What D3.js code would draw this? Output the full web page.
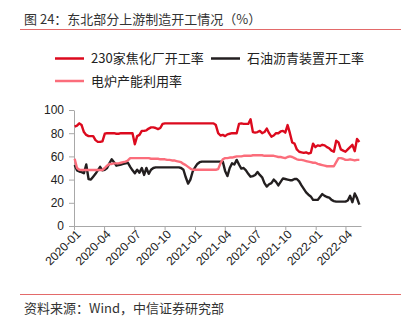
<!DOCTYPE html>
<html>
<head>
<meta charset="utf-8">
<script src="https://cdn.jsdelivr.net/npm/d3@7"></script>
<style>
  html, body { margin: 0; padding: 0; background: #fff; }
  svg { display: block; }
  text { font-family: "Noto Sans CJK SC", "Liberation Sans", Arial, sans-serif; }
  .tick text { font-family: "Liberation Sans", Arial, sans-serif; }
</style>
</head>
<body>
<script>
// Weekly readings, first week ending 2020-01-03
const firstWeek = "2020-01-03";

const coking = [
  85.6, 86.5, 88.5, 87, 81, 78.5, 77.5, 77.5, 77.5, 74,
  72.5, 72.5, 73, 79.5, 80, 80, 80, 80, 79.5, 79.5,
  80, 80, 80, 80, 80, 80, 70.5, 77.5, 78.5, 82,
  82, 82.5, 84, 85, 85, 84.5, 83.5, 84.5, 88, 88.5,
  88.5, 88.5, 88.5, 88.5, 88.5, 88.5, 88.5, 88.5, 88.5, 88.5,
  88.5, 88.5, 88.5, 88.5, 88.5, 88.5, 88.5, 88.5, 88.5, 88.5,
  88.5, 87, 80, 78, 78.5, 77.5, 79, 79.5, 80, 80,
  80, 88, 88.5, 88, 88, 88, 92, 81, 80.5, 81,
  82, 80, 81, 84, 80, 77, 78, 80, 80, 81.5,
  82, 80.5, 87, 80, 72, 71, 66, 64, 63.5, 63,
  63.5, 62.5, 63, 71, 68, 69.5, 69, 70, 69.5, 68,
  67, 65, 64, 73.5, 72, 66, 65, 64, 66, 68,
  70, 64.5, 75, 72.5
];

const asphalt = [
  52.6, 48, 47, 46.5, 45.5, 53, 40.5, 40, 42.5, 45,
  48, 51, 48, 48.5, 50, 54, 57.5, 55, 52, 52.5,
  53, 53.5, 54, 54.5, 51, 48, 45.5, 48.5, 46, 50,
  44, 50, 45, 48.5, 50, 50.5, 50.5, 50.5, 50.5, 50.5,
  50.5, 50.5, 50.5, 50.5, 50.5, 50.5, 50, 48.5, 42, 36.5,
  40, 47, 50.5, 53.5, 55, 55.5, 55.5, 55.5, 55.5, 55.5,
  55.5, 55.5, 55.5, 55.5, 55.5, 47.5, 43, 50, 54, 53,
  57, 53, 49.5, 50, 48, 45, 42.5, 43, 44, 46.5,
  44, 42, 37, 34, 36, 37, 40, 38, 35, 38,
  41, 40.5, 40, 39.5, 39.5, 40.5, 40.5, 38.5, 35, 32,
  29, 27, 25.5, 22.5, 22.5, 22.5, 25, 27.5, 26, 25,
  24.5, 22.5, 21.5, 21, 21, 21, 21, 21, 22, 26,
  20.5, 28, 24, 18.5
];

const eaf = [
  58, 50, 48.5, 48.3, 48.3, 48.3, 48.3, 48.3, 48.3, 48.3,
  48.3, 48.3, 48.3, 50, 52, 53.5, 53.5, 54, 54, 54,
  54.5, 55, 55.5, 56.5, 58.5, 58.5, 58.5, 58.5, 58.5, 58.5,
  58.5, 58.5, 58.5, 58, 58, 58, 58, 57.5, 57.5, 57.5,
  57, 57, 56.5, 56.5, 56, 55.5, 55, 53.5, 52.5, 51,
  49.5, 48.5, 48.5, 48.5, 48.5, 48.5, 48.5, 48.5, 48.5, 48.5,
  48.5, 48.5, 49, 54, 57.5, 58.5, 58.5, 59, 59, 59.5,
  60, 60, 60, 60.5, 60.5, 60.5, 60.5, 61, 61, 61,
  61, 61, 60.5, 60.5, 60.5, 60.5, 60.5, 60, 59.5, 59.5,
  59, 58.5, 59.5, 60, 59.5, 58.5, 57.5, 57, 57, 56.5,
  56, 55.5, 55, 54.5, 54.5, 53.5, 53, 52.5, 52, 51.5,
  51.5, 51.5, 51.5, 55, 58.5, 58.5, 58, 57, 57, 57.5,
  57, 56.5, 57, 57
];

const seriesNames = ["230家焦化厂开工率", "石油沥青装置开工率", "电炉产能利用率"];
const seriesColors = ["#dc0a1e", "#231f20", "#fb6d7b"];
const yTicks = [0, 20, 40, 60, 80, 100];
const xTickLabels = ["2020-01", "2020-04", "2020-07", "2020-10", "2021-01",
                     "2021-04", "2021-07", "2021-10", "2022-01", "2022-04"];
const titleText = "图 24：东北部分上游制造开工情况（%）";
const sourceText = "资料来源：Wind，中信证券研究部";

const W = 401, H = 324;
const svg = d3.select("body").append("svg").attr("width", W).attr("height", H);

const parseDay = d3.timeParse("%Y-%m-%d");
const parseMonth = d3.timeParse("%Y-%m");
const start = parseDay(firstWeek);
const dates = coking.map((_, i) => d3.timeDay.offset(start, 7 * i));

const x = d3.scaleTime()
  .domain([parseDay("2020-01-01"), parseDay("2022-05-18")])
  .range([74, 361]);
const y = d3.scaleLinear().domain([0, 100]).range([226, 110]);

// title and rules
svg.append("text").attr("x", 24).attr("y", 24)
  .attr("font-size", 13).attr("fill", "#333").text(titleText);
svg.append("line").attr("x1", 20).attr("x2", 401).attr("y1", 29.5).attr("y2", 29.5)
  .attr("stroke", "#e36a6a").attr("stroke-width", 1);
svg.append("line").attr("x1", 20).attr("x2", 401).attr("y1", 294.5).attr("y2", 294.5)
  .attr("stroke", "#e36a6a").attr("stroke-width", 1);
svg.append("text").attr("x", 24).attr("y", 313)
  .attr("font-size", 13).attr("fill", "#333").text(sourceText);

// legend
const legendItems = [
  { lx: 55, ly: 58.5 },
  { lx: 211, ly: 58.5 },
  { lx: 55, ly: 81 }
];
legendItems.forEach((p, k) => {
  const g = svg.append("g");
  g.append("line").attr("x1", p.lx).attr("x2", p.lx + 29)
    .attr("y1", p.ly).attr("y2", p.ly)
    .attr("stroke", seriesColors[k]).attr("stroke-width", 2.5);
  g.append("text").attr("x", p.lx + 36).attr("y", p.ly + 4.5)
    .attr("font-size", 13).attr("fill", "#222").text(seriesNames[k]);
});

// axes
const yAxis = svg.append("g").attr("transform", "translate(74,0)")
  .call(d3.axisLeft(y).tickValues(yTicks).tickSize(5).tickPadding(5).tickSizeOuter(0));
yAxis.selectAll("text").attr("font-size", 12).attr("fill", "#222");

const xAxis = svg.append("g").attr("transform", "translate(0,226)")
  .call(d3.axisBottom(x).tickValues(xTickLabels.map(parseMonth))
    .tickFormat(d3.timeFormat("%Y-%m")).tickSize(4).tickSizeOuter(0));
xAxis.selectAll("text")
  .attr("font-size", 12).attr("fill", "#222")
  .attr("text-anchor", "end")
  .attr("dy", "0.35em")
  .attr("transform", "translate(4,6) rotate(-45)")
  .attr("y", 0).attr("x", 0);

[yAxis, xAxis].forEach(a => {
  a.selectAll("path, line").attr("stroke", "#a8a8a8");
});

// lines
const line = d3.line().x((d, i) => x(dates[i])).y(d => y(d));
[coking, asphalt, eaf].forEach((s, k) => {
  svg.append("path").datum(s)
    .attr("fill", "none")
    .attr("stroke", seriesColors[k])
    .attr("stroke-width", 2.4)
    .attr("stroke-linejoin", "round")
    .attr("d", line);
});
</script>
</body>
</html>
